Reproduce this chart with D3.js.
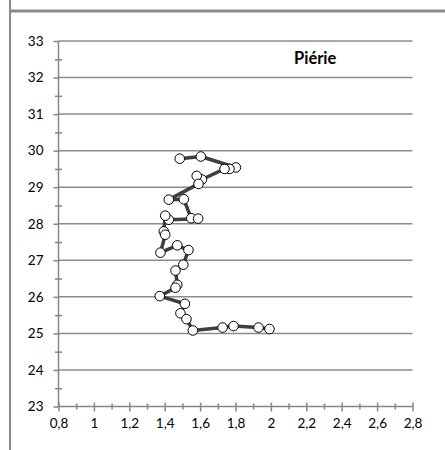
<!DOCTYPE html>
<html><head><meta charset="utf-8">
<script src="https://cdn.jsdelivr.net/npm/d3@7"></script>
<style>body{margin:0;background:#fff}svg{display:block}</style>
</head><body>
<script>
const title = "Piérie";
const xValues = [1.485,1.604,1.802,1.766,1.738,1.610,1.581,1.591,1.423,1.508,1.550,1.589,1.423,1.403,1.395,1.403,1.376,1.471,1.534,1.505,1.461,1.471,1.461,1.372,1.514,1.489,1.523,1.559,1.727,1.789,1.930,1.992];
const yValues = [29.78,29.84,29.54,29.50,29.50,29.21,29.31,29.09,28.66,28.67,28.15,28.14,28.11,28.22,27.79,27.70,27.21,27.41,27.28,26.88,26.72,26.33,26.25,26.02,25.81,25.55,25.39,25.08,25.16,25.20,25.16,25.12];
const xTicks = [0.8,1,1.2,1.4,1.6,1.8,2,2.2,2.4,2.6,2.8];
const yTicks = [23,24,25,26,27,28,29,30,31,32,33];

const W = 445, H = 450;
const svg = d3.select("body").append("svg").attr("width", W).attr("height", H);
const x = d3.scaleLinear().domain([0.8, 2.8]).range([58.5, 412.5]);
const y = d3.scaleLinear().domain([23, 33]).range([406.5, 41]);
const gridC = "#8c8c8c", axisC = "#868686";
const fmt = d => String(+d.toFixed(1)).replace(".", ",");

// frame
svg.append("line").attr("x1", 10).attr("x2", 10).attr("y1", 0).attr("y2", H).attr("stroke", "#8a8a8a").attr("stroke-width", 2);
svg.append("line").attr("x1", 10).attr("x2", W).attr("y1", 11).attr("y2", 11).attr("stroke", "#8a8a8a").attr("stroke-width", 3);

// gridlines
svg.append("g").selectAll("line").data(yTicks.slice(1)).join("line")
  .attr("x1", x(0.8)).attr("x2", x(2.8)).attr("y1", d => y(d)).attr("y2", d => y(d))
  .attr("stroke", gridC).attr("stroke-width", 1.5);

// y axis
const yMinor = d3.range(23.5, 33, 1);
svg.append("g").attr("transform", `translate(${x(0.8)},0)`)
  .call(d3.axisLeft(y).tickValues(yMinor).tickSize(3.5).tickFormat(""))
  .call(g => { g.select(".domain").remove(); g.selectAll("line").attr("x1", -3.5).attr("x2", 3.5).attr("stroke", axisC).attr("stroke-width", 1.5); });
const yAx = svg.append("g").attr("transform", `translate(${x(0.8)},0)`)
  .call(d3.axisLeft(y).tickValues(yTicks).tickSize(5).tickPadding(10).tickFormat(d3.format("d")));
yAx.select(".domain").attr("stroke", axisC).attr("stroke-width", 1.5).attr("d", `M0,${y(23)}V${y(33)}`);
yAx.selectAll(".tick line").attr("stroke", axisC).attr("stroke-width", 1.5);
yAx.selectAll("text").attr("font-family", "Lato").attr("font-size", 13.5).attr("fill", "#000");

// x axis
const xMinor = d3.range(0.9, 2.8, 0.2);
svg.append("g").attr("transform", `translate(0,${y(23)})`)
  .call(d3.axisBottom(x).tickValues(xMinor).tickSize(3).tickFormat(""))
  .call(g => { g.select(".domain").remove(); g.selectAll("line").attr("y1", -3).attr("y2", 3).attr("stroke", axisC).attr("stroke-width", 1.5); });
const xAx = svg.append("g").attr("transform", `translate(0,${y(23)})`)
  .call(d3.axisBottom(x).tickValues(xTicks).tickSize(5).tickPadding(7).tickFormat(fmt));
xAx.select(".domain").attr("stroke", axisC).attr("stroke-width", 1.5).attr("d", `M${x(0.8)},0H${x(2.8)}`);
xAx.selectAll(".tick line").attr("y1", -4).attr("stroke", axisC).attr("stroke-width", 1.5);
xAx.selectAll("text").attr("font-family", "Lato").attr("font-size", 13.5).attr("fill", "#000");

// series
const pts = xValues.map((v, i) => [v, yValues[i]]);
svg.append("path").datum(pts)
  .attr("d", d3.line().x(d => x(d[0])).y(d => y(d[1])))
  .attr("fill", "none").attr("stroke", "#3f3f3f").attr("stroke-width", 3.5).attr("stroke-linejoin", "round");
svg.append("g").selectAll("circle").data(pts).join("circle")
  .attr("cx", d => x(d[0])).attr("cy", d => y(d[1])).attr("r", 4.8)
  .attr("fill", "#fff").attr("stroke", "#000").attr("stroke-width", 1);

// title
svg.append("text").attr("x", 294).attr("y", 64).text(title)
  .attr("font-family", "Lato").attr("font-weight", "bold").attr("font-size", 16.5).attr("fill", "#000");
</script>
</body></html>
